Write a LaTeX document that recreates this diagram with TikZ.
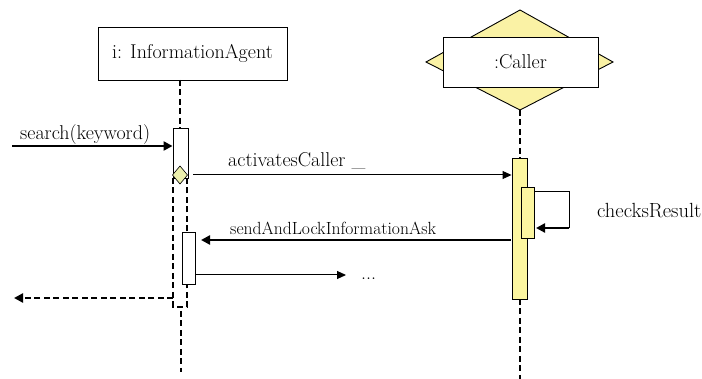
\documentclass[tikz,border=0pt]{standalone}
\usetikzlibrary{arrows.meta}
\definecolor{actyellow}{RGB}{252,246,160}
\definecolor{diayellow}{RGB}{250,242,165}
\definecolor{branchyellow}{RGB}{236,240,172}
\tikzset{
  objbox/.style={draw, line width=0.9pt, fill=white, inner sep=0pt},
  actbox/.style={draw, line width=0.9pt, inner sep=0pt},
  lifeline/.style={line width=2.4pt, dash pattern=on 6pt off 3.5pt},
  thinmsg/.style={line width=1pt, -{Triangle[length=9pt,width=8pt]}},
  thickmsg/.style={line width=2.4pt, -{Triangle[length=9pt,width=9pt]}},
  lbl/.style={font=\fontsize{20}{24}\selectfont, inner sep=0pt, anchor=base west}
}
\begin{document}
\begin{tikzpicture}[x=1pt,y=-1pt]
\useasboundingbox (0,0) rectangle (702,379);

% InformationAgent object and lifeline
\node[objbox, minimum width=189pt, minimum height=53pt, font=\fontsize{20}{24}\selectfont]
  (agent) at (192.5,53.5) {i: InformationAgent};
\coordinate (agentTop) at (180,80);
\coordinate (agentActTop) at (180,128);
\draw[lifeline] (agentTop) -- (agentActTop);

% dashed continuation of the agent activation
\coordinate (fragTL) at (173,178);
\coordinate (fragBR) at (187,307);
\draw[line width=2.4pt, dash pattern=on 6pt off 3.5pt] (fragTL) -- (173,307) -- (fragBR) -- (187,178);
\coordinate (agentLow) at (181,311);
\coordinate (agentEnd) at (181,372);
\draw[lifeline] (agentLow) -- (agentEnd);

% agent activation
\node[actbox, fill=white, minimum width=15pt, minimum height=50pt] (aact) at (180.5,153) {};

% branch diamond
\coordinate (branch) at (180,175);
\draw[line width=0.6pt, fill=branchyellow] ([yshift=-9pt]branch) -- ([xshift=7.5pt]branch)
  -- ([yshift=9pt]branch) -- ([xshift=-7.5pt]branch) -- cycle;

% second agent activation
\node[actbox, fill=white, minimum width=13pt, minimum height=52pt] (aact2) at (188.5,258) {};

% Caller object with diamond behind it
\draw[line width=0.9pt, fill=diayellow] (520,10) -- (613,62) -- (520,110) -- (426,62) -- cycle;
\node[objbox, minimum width=155pt, minimum height=50pt, font=\fontsize{20}{24}\selectfont]
  (caller) at (520.5,62) {:Caller};
\coordinate (callerTop) at (520,110);
\coordinate (callerActTop) at (520,158);
\draw[line width=2pt, dash pattern=on 6pt off 3.5pt] (callerTop) -- (callerActTop);
\coordinate (callerLow) at (520,299);
\coordinate (callerEnd) at (520,379);
\draw[line width=2pt, dash pattern=on 6pt off 3.5pt] (callerLow) -- (callerEnd);

% Caller activations
\node[actbox, fill=actyellow, minimum width=15pt, minimum height=141pt] (cact) at (519.5,228.5) {};
\node[actbox, fill=actyellow, minimum width=13pt, minimum height=51pt] (cnest) at (527.5,212.5) {};

% self message
\coordinate (selfA) at (534,192);
\coordinate (selfB) at (569,192);
\coordinate (selfC) at (569,228);
\coordinate (selfD) at (536,228);
\draw[line width=1pt] (selfA) -- (selfB) -- (selfC);
\draw[thickmsg] (selfC) -- (selfD);
\node[lbl, font=\fontsize{20.5}{24}\selectfont] (checks) at (597,218) {checksResult};

% incoming search message
\coordinate (searchStart) at (12,146);
\draw[thickmsg] (searchStart) -- (aact.west |- searchStart);
\node[lbl] (searchlbl) at (20,140) {search(keyword)};

% activatesCaller
\coordinate (actStart) at (193,175);
\draw[thinmsg] (actStart) -- (cact.west |- actStart);
\node[lbl] (actlbl) at (228,167) {activatesCaller \_};

% sendAndLockInformationAsk
\coordinate (sendStart) at (511,240);
\coordinate (sendEnd) at (201,240);
\draw[thickmsg] (sendStart) -- (sendEnd);
\node[lbl, font=\fontsize{17.6}{21}\selectfont] (sendlbl) at (230,235) {sendAndLockInformationAsk};

% continuation message
\coordinate (contEnd) at (346,275);
\draw[thinmsg] (aact2.east |- contEnd) -- (contEnd);
\node[lbl] (dots) at (361,280) {...};

% dashed return
\coordinate (retEnd) at (14,298);
\draw[line width=2.4pt, dash pattern=on 6pt off 3.5pt, -{Triangle[length=9pt,width=9pt]}]
  (fragTL |- retEnd) -- (retEnd);
\end{tikzpicture}
\end{document}
